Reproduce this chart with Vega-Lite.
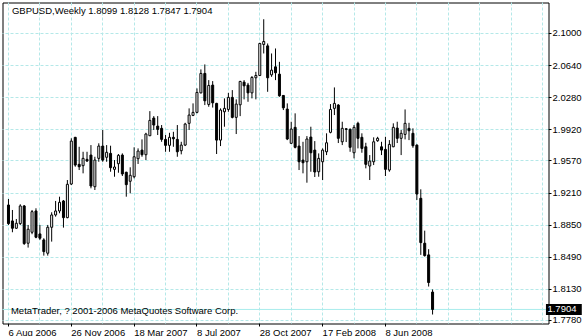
{
  "$schema": "https://vega.github.io/schema/vega-lite/v6.json",
  "width": 546,
  "height": 321,
  "autosize": {"type": "none"},
  "padding": {"left": 2.5, "top": 2.5, "right": 35.5, "bottom": 12.5},
  "background": "white",
  "config": {
    "view": {"stroke": "black", "strokeWidth": 1},
    "font": "Liberation Sans",
    "axis": {
      "grid": true,
      "gridColor": "#b4e8e8",
      "gridDash": [3, 2],
      "gridWidth": 1,
      "tickSize": 3,
      "tickColor": "black",
      "tickCount": 200,
      "domain": false,
      "labelPadding": 1,
      "labelFont": "Liberation Sans",
      "labelFontSize": 9.5,
      "labelColor": "black",
      "labelFlush": false,
      "labelOverlap": false,
      "labelBound": false,
      "translate": 0
    }
  },
  "layer": [
    {
      "data": {"values": [{"price": 1.7904}]},
      "mark": {"type": "rule", "color": "#a8ecec", "strokeWidth": 1},
      "encoding": {
        "y": {"field": "price", "type": "quantitative", "axis": {"orient": "right", "title": null}}
      }
    },
    {
      "data": {"values": [
        {"d":"2006-08-06","o":1.9076,"h":1.9143,"l":1.8852,"c":1.8867},
        {"d":"2006-08-13","o":1.8897,"h":1.9020,"l":1.8770,"c":1.8815},
        {"d":"2006-08-20","o":1.8815,"h":1.8919,"l":1.8807,"c":1.8871},
        {"d":"2006-08-27","o":1.8867,"h":1.9084,"l":1.8852,"c":1.9065},
        {"d":"2006-09-03","o":1.9065,"h":1.9076,"l":1.8628,"c":1.8643},
        {"d":"2006-09-10","o":1.8647,"h":1.8852,"l":1.8598,"c":1.8804},
        {"d":"2006-09-17","o":1.8770,"h":1.9020,"l":1.8748,"c":1.9001},
        {"d":"2006-09-24","o":1.9009,"h":1.9039,"l":1.8703,"c":1.8714},
        {"d":"2006-10-01","o":1.8751,"h":1.8852,"l":1.8684,"c":1.8703},
        {"d":"2006-10-08","o":1.8684,"h":1.8703,"l":1.8508,"c":1.8553},
        {"d":"2006-10-15","o":1.8535,"h":1.8852,"l":1.8508,"c":1.8826},
        {"d":"2006-10-22","o":1.8826,"h":1.8994,"l":1.8665,"c":1.8964},
        {"d":"2006-10-29","o":1.8964,"h":1.9121,"l":1.8945,"c":1.9009},
        {"d":"2006-11-05","o":1.9009,"h":1.9169,"l":1.8983,"c":1.9106},
        {"d":"2006-11-12","o":1.9121,"h":1.9132,"l":1.8822,"c":1.8934},
        {"d":"2006-11-19","o":1.8934,"h":1.9356,"l":1.8927,"c":1.9308},
        {"d":"2006-11-26","o":1.9311,"h":1.9824,"l":1.9300,"c":1.9793},
        {"d":"2006-12-03","o":1.9835,"h":1.9840,"l":1.9505,"c":1.9524},
        {"d":"2006-12-10","o":1.9532,"h":1.9729,"l":1.9468,"c":1.9505},
        {"d":"2006-12-17","o":1.9517,"h":1.9673,"l":1.9431,"c":1.9599},
        {"d":"2006-12-24","o":1.9588,"h":1.9673,"l":1.9561,"c":1.9569},
        {"d":"2006-12-31","o":1.9636,"h":1.9748,"l":1.9263,"c":1.9289},
        {"d":"2007-01-07","o":1.9281,"h":1.9617,"l":1.9244,"c":1.9580},
        {"d":"2007-01-14","o":1.9599,"h":1.9768,"l":1.9561,"c":1.9737},
        {"d":"2007-01-21","o":1.9737,"h":1.9917,"l":1.9561,"c":1.9580},
        {"d":"2007-01-28","o":1.9611,"h":1.9748,"l":1.9561,"c":1.9667},
        {"d":"2007-02-04","o":1.9655,"h":1.9741,"l":1.9449,"c":1.9494},
        {"d":"2007-02-11","o":1.9476,"h":1.9580,"l":1.9393,"c":1.9502},
        {"d":"2007-02-18","o":1.9539,"h":1.9648,"l":1.9438,"c":1.9633},
        {"d":"2007-02-25","o":1.9636,"h":1.9655,"l":1.9401,"c":1.9424},
        {"d":"2007-03-04","o":1.9443,"h":1.9449,"l":1.9169,"c":1.9304},
        {"d":"2007-03-11","o":1.9342,"h":1.9499,"l":1.9207,"c":1.9409},
        {"d":"2007-03-18","o":1.9393,"h":1.9723,"l":1.9375,"c":1.9617},
        {"d":"2007-03-25","o":1.9595,"h":1.9711,"l":1.9536,"c":1.9681},
        {"d":"2007-04-01","o":1.9692,"h":1.9812,"l":1.9617,"c":1.9640},
        {"d":"2007-04-08","o":1.9640,"h":1.9886,"l":1.9580,"c":1.9872},
        {"d":"2007-04-15","o":1.9853,"h":2.0129,"l":1.9849,"c":2.0025},
        {"d":"2007-04-22","o":2.0051,"h":2.0073,"l":1.9917,"c":1.9973},
        {"d":"2007-04-29","o":1.9961,"h":2.0073,"l":1.9861,"c":1.9924},
        {"d":"2007-05-06","o":1.9936,"h":1.9973,"l":1.9785,"c":1.9812},
        {"d":"2007-05-13","o":1.9812,"h":1.9861,"l":1.9673,"c":1.9745},
        {"d":"2007-05-20","o":1.9745,"h":1.9886,"l":1.9673,"c":1.9835},
        {"d":"2007-05-27","o":1.9835,"h":1.9897,"l":1.9729,"c":1.9819},
        {"d":"2007-06-03","o":1.9812,"h":1.9973,"l":1.9617,"c":1.9673},
        {"d":"2007-06-10","o":1.9685,"h":1.9785,"l":1.9644,"c":1.9748},
        {"d":"2007-06-17","o":1.9748,"h":1.9998,"l":1.9737,"c":1.9984},
        {"d":"2007-06-24","o":1.9992,"h":2.0160,"l":1.9917,"c":2.0085},
        {"d":"2007-07-01","o":2.0081,"h":2.0216,"l":2.0073,"c":2.0115},
        {"d":"2007-07-08","o":2.0115,"h":2.0384,"l":2.0104,"c":2.0339},
        {"d":"2007-07-15","o":2.0334,"h":2.0597,"l":2.0328,"c":2.0552},
        {"d":"2007-07-22","o":2.0552,"h":2.0653,"l":2.0197,"c":2.0245},
        {"d":"2007-07-29","o":2.0204,"h":2.0477,"l":2.0178,"c":2.0417},
        {"d":"2007-08-05","o":2.0421,"h":2.0466,"l":2.0169,"c":2.0222},
        {"d":"2007-08-12","o":2.0216,"h":2.0222,"l":1.9648,"c":1.9804},
        {"d":"2007-08-19","o":1.9804,"h":2.0160,"l":1.9737,"c":2.0141},
        {"d":"2007-08-26","o":2.0122,"h":2.0272,"l":1.9954,"c":2.0160},
        {"d":"2007-09-02","o":2.0148,"h":2.0334,"l":2.0122,"c":2.0283},
        {"d":"2007-09-09","o":2.0283,"h":2.0365,"l":2.0048,"c":2.0059},
        {"d":"2007-09-16","o":2.0059,"h":2.0261,"l":1.9872,"c":2.0208},
        {"d":"2007-09-23","o":2.0200,"h":2.0469,"l":2.0073,"c":2.0462},
        {"d":"2007-09-30","o":2.0454,"h":2.0477,"l":2.0261,"c":2.0413},
        {"d":"2007-10-07","o":2.0421,"h":2.0446,"l":2.0234,"c":2.0334},
        {"d":"2007-10-14","o":2.0334,"h":2.0522,"l":2.0272,"c":2.0507},
        {"d":"2007-10-21","o":2.0503,"h":2.0570,"l":2.0261,"c":2.0529},
        {"d":"2007-10-28","o":2.0529,"h":2.0895,"l":2.0522,"c":2.0888},
        {"d":"2007-11-04","o":2.0877,"h":2.1160,"l":2.0776,"c":2.0910},
        {"d":"2007-11-11","o":2.0861,"h":2.0888,"l":2.0346,"c":2.0503},
        {"d":"2007-11-18","o":2.0536,"h":2.0776,"l":2.0514,"c":2.0589},
        {"d":"2007-11-25","o":2.0626,"h":2.0832,"l":2.0477,"c":2.0559},
        {"d":"2007-12-02","o":2.0544,"h":2.0682,"l":2.0290,"c":2.0301},
        {"d":"2007-12-09","o":2.0305,"h":2.0309,"l":2.0141,"c":2.0166},
        {"d":"2007-12-16","o":2.0152,"h":2.0216,"l":1.9804,"c":1.9816},
        {"d":"2007-12-23","o":1.9768,"h":2.0010,"l":1.9760,"c":1.9928},
        {"d":"2007-12-30","o":1.9947,"h":2.0104,"l":1.9711,"c":1.9723},
        {"d":"2008-01-06","o":1.9737,"h":1.9849,"l":1.9468,"c":1.9561},
        {"d":"2008-01-13","o":1.9580,"h":1.9785,"l":1.9431,"c":1.9550},
        {"d":"2008-01-20","o":1.9561,"h":1.9849,"l":1.9326,"c":1.9816},
        {"d":"2008-01-27","o":1.9838,"h":1.9954,"l":1.9449,"c":1.9662},
        {"d":"2008-02-03","o":1.9692,"h":1.9793,"l":1.9390,"c":1.9446},
        {"d":"2008-02-10","o":1.9449,"h":1.9655,"l":1.9393,"c":1.9599},
        {"d":"2008-02-17","o":1.9561,"h":1.9711,"l":1.9356,"c":1.9692},
        {"d":"2008-02-24","o":1.9673,"h":1.9880,"l":1.9636,"c":1.9774},
        {"d":"2008-03-02","o":1.9891,"h":2.0208,"l":1.9880,"c":2.0148},
        {"d":"2008-03-09","o":2.0160,"h":2.0395,"l":2.0085,"c":2.0216},
        {"d":"2008-03-16","o":2.0197,"h":2.0208,"l":1.9771,"c":1.9824},
        {"d":"2008-03-23","o":1.9785,"h":2.0010,"l":1.9748,"c":1.9936},
        {"d":"2008-03-30","o":1.9931,"h":1.9939,"l":1.9782,"c":1.9924},
        {"d":"2008-04-06","o":1.9924,"h":1.9936,"l":1.9673,"c":1.9723},
        {"d":"2008-04-13","o":1.9662,"h":1.9973,"l":1.9599,"c":1.9947},
        {"d":"2008-04-20","o":1.9992,"h":2.0010,"l":1.9711,"c":1.9824},
        {"d":"2008-04-27","o":1.9835,"h":1.9880,"l":1.9662,"c":1.9711},
        {"d":"2008-05-04","o":1.9729,"h":1.9774,"l":1.9487,"c":1.9532},
        {"d":"2008-05-11","o":1.9513,"h":1.9636,"l":1.9356,"c":1.9569},
        {"d":"2008-05-18","o":1.9561,"h":1.9835,"l":1.9524,"c":1.9785},
        {"d":"2008-05-25","o":1.9797,"h":1.9841,"l":1.9785,"c":1.9824},
        {"d":"2008-06-01","o":1.9729,"h":1.9785,"l":1.9636,"c":1.9692},
        {"d":"2008-06-08","o":1.9700,"h":1.9841,"l":1.9401,"c":1.9476},
        {"d":"2008-06-15","o":1.9468,"h":1.9804,"l":1.9449,"c":1.9756},
        {"d":"2008-06-22","o":1.9729,"h":1.9992,"l":1.9725,"c":1.9947},
        {"d":"2008-06-29","o":1.9939,"h":2.0010,"l":1.9771,"c":1.9824},
        {"d":"2008-07-06","o":1.9824,"h":1.9917,"l":1.9636,"c":1.9880},
        {"d":"2008-07-13","o":1.9868,"h":2.0148,"l":1.9812,"c":1.9992},
        {"d":"2008-07-20","o":1.9936,"h":1.9998,"l":1.9804,"c":1.9909},
        {"d":"2008-07-27","o":1.9880,"h":1.9936,"l":1.9718,"c":1.9741},
        {"d":"2008-08-03","o":1.9748,"h":1.9756,"l":1.9132,"c":1.9199},
        {"d":"2008-08-10","o":1.9151,"h":1.9252,"l":1.8516,"c":1.8654},
        {"d":"2008-08-17","o":1.8647,"h":1.8788,"l":1.8497,"c":1.8508},
        {"d":"2008-08-24","o":1.8516,"h":1.8580,"l":1.8161,"c":1.8206},
        {"d":"2008-08-31","o":1.8099,"h":1.8128,"l":1.7847,"c":1.7904}
      ]},
      "layer": [
        {
          "mark": {"type": "rule", "color": "black", "strokeWidth": 1},
          "encoding": {
            "x": {
              "field": "d",
              "type": "temporal",
              "scale": {"type": "utc", "domain": [1154671200000, 1237226400000], "nice": false},
              "axis": {
                "orient": "bottom",
                "title": null,
                "tickCount": 200,
                "values": [1154822400000, 1159660800000, 1164499200000, 1169337600000, 1174176000000, 1179014400000, 1183852800000, 1188691200000, 1193529600000, 1198368000000, 1203206400000, 1208044800000, 1212883200000, 1217721600000, 1222560000000, 1227398400000, 1232236800000, 1237075200000],
                "format": "%-d %b %Y",
                "labelExpr": "(time(datum.value) - 1154822400000) % 9676800000 == 0 && time(datum.value) <= 1212883200000 ? datum.label : ''",
                "tickOpacity": {"condition": {"test": "(time(datum.value) - 1154822400000) % 9676800000 == 0 && time(datum.value) <= 1212883200000", "value": 1}, "value": 0},
                "labelAlign": "left",
                "labelBaseline": "top",
                "labelOverlap": false
              }
            },
            "y": {
              "field": "l",
              "type": "quantitative",
              "scale": {"domain": [1.77463, 2.13478], "zero": false, "nice": false},
              "axis": {
                "orient": "right",
                "title": null,
                "tickCount": 200,
                "values": [2.1, 2.064, 2.028, 1.992, 1.957, 1.921, 1.885, 1.849, 1.813, 1.778],
                "format": ".4f",
                "labelOverlap": false
              }
            },
            "y2": {"field": "h"}
          }
        },
        {
          "mark": {"type": "bar", "size": 2, "stroke": "black", "strokeWidth": 1},
          "encoding": {
            "x": {"field": "d", "type": "temporal", "axis": {"orient": "bottom", "title": null}},
            "y": {"field": "o", "type": "quantitative", "axis": {"orient": "right", "title": null}},
            "y2": {"field": "c"},
            "fill": {"condition": {"test": "datum.c > datum.o", "value": "white"}, "value": "black"}
          }
        }
      ]
    },
    {
      "data": {"values": [{"label": "GBPUSD,Weekly  1.8099 1.8128 1.7847 1.7904"}]},
      "mark": {"type": "text", "align": "left", "baseline": "middle", "font": "Liberation Sans", "fontSize": 9.5, "color": "black"},
      "encoding": {
        "x": {"datum": 1155351600000, "type": "temporal", "axis": {"orient": "bottom", "title": null}},
        "y": {"datum": 2.12524, "type": "quantitative", "axis": {"orient": "right", "title": null}},
        "text": {"field": "label"}
      }
    },
    {
      "data": {"values": [{"label": "MetaTrader, ? 2001-2006 MetaQuotes Software Corp."}]},
      "mark": {"type": "text", "align": "left", "baseline": "middle", "font": "Liberation Sans", "fontSize": 9.5, "color": "black"},
      "encoding": {
        "x": {"datum": 1155200400000, "type": "temporal", "axis": {"orient": "bottom", "title": null}},
        "y": {"datum": 1.78865, "type": "quantitative", "axis": {"orient": "right", "title": null}},
        "text": {"field": "label"}
      }
    },
    {
      "data": {"values": [{"price": 1.7904}]},
      "mark": {"type": "rect", "color": "black"},
      "encoding": {
        "x": {"datum": 1237604400000, "type": "temporal", "axis": {"orient": "bottom", "title": null}},
        "x2": {"datum": 1243123200000},
        "y": {"datum": 1.79651, "type": "quantitative", "axis": {"orient": "right", "title": null}},
        "y2": {"datum": 1.78417}
      }
    },
    {
      "data": {"values": [{"price": 1.7904}]},
      "mark": {"type": "text", "align": "left", "baseline": "middle", "font": "Liberation Sans", "fontSize": 9.5, "color": "white"},
      "encoding": {
        "x": {"datum": 1237831200000, "type": "temporal", "axis": {"orient": "bottom", "title": null}},
        "y": {"field": "price", "type": "quantitative", "axis": {"orient": "right", "title": null}},
        "text": {"field": "price", "type": "quantitative", "format": ".4f"}
      }
    }
  ]
}
